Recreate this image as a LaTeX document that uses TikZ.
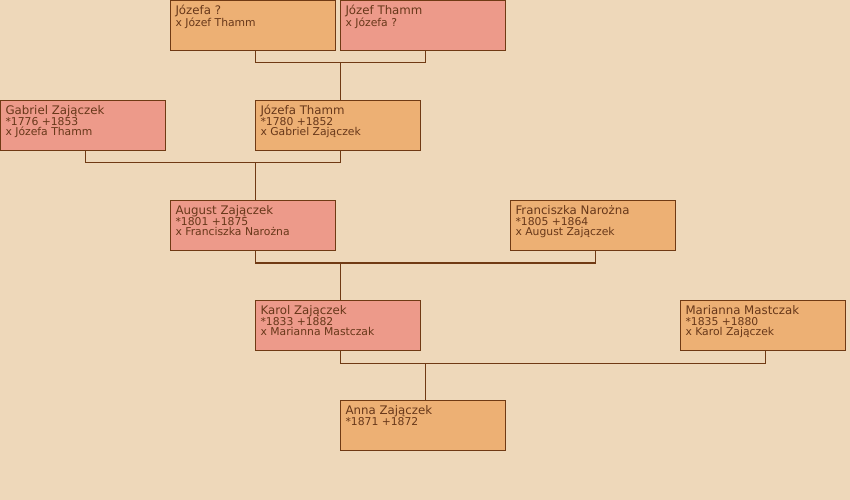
\documentclass[tikz,border=0pt]{standalone}
\usepackage{fontspec}
\setmainfont{DejaVu Sans}
\usetikzlibrary{calc}
\definecolor{bgcol}{RGB}{238,216,186}
\definecolor{boxorange}{RGB}{237,176,116}
\definecolor{boxsalmon}{RGB}{237,154,138}
\definecolor{linebrown}{RGB}{112,58,20}
\definecolor{textbrown}{RGB}{104,56,26}
\def\famtext#1#2{\parbox[t][50bp][t]{155bp}{\raggedright\fontsize{11.8bp}{10.5bp}\selectfont\rule{0pt}{14bp}#1\par\fontsize{10.8bp}{10.6bp}\selectfont #2}}
\tikzset{
  person/.style={draw=linebrown, line width=1bp, fill=#1, minimum width=165bp, minimum height=50bp,
    inner xsep=5bp, inner ysep=0pt, anchor=north west, text=textbrown},
  link/.style={draw=linebrown, line width=1bp}
}

\begin{document}
\begin{tikzpicture}[x=1bp, y=-1bp]
		%%%%% START %%%%%
		\fill[bgcol] (0,0) rectangle (850,500);
		\useasboundingbox (0,0) rectangle (850,500);
		
		\node[person=boxorange] (jozefaq) at (170,0) {\famtext{Józefa ?}{x Józef Thamm}};
		\node[person=boxsalmon] (jozefth) at (340,0) {\famtext{Józef Thamm}{x Józefa ?}};
		
		\node[person=boxsalmon] (gabriel) at (0,100) {\famtext{Gabriel Zajączek}{*1776 +1853\\x Józefa Thamm}};
		\node[person=boxorange] (jthamm) at (255,100) {\famtext{Józefa Thamm}{*1780 +1852\\x Gabriel Zajączek}};
		
		\node[person=boxsalmon] (august) at (170,200) {\famtext{August Zajączek}{*1801 +1875\\x Franciszka Narożna}};
		\node[person=boxorange] (franc) at (510,200) {\famtext{Franciszka Narożna}{*1805 +1864\\x August Zajączek}};
		
		\node[person=boxsalmon] (karol) at (255,300) {\famtext{Karol Zajączek}{*1833 +1882\\x Marianna Mastczak}};
		\node[person=boxorange] (marianna) at (680,300) {\famtext{Marianna Mastczak}{*1835 +1880\\x Karol Zajączek}};
		
		\node[person=boxorange] (anna) at (340,400) {\famtext{Anna Zajączek}{*1871 +1872}};
		
		% couples and children
		\draw[link] ([xshift=2.5bp]jozefaq.south) -- ++(0,12) coordinate (m1) -| ([xshift=2.5bp]jozefth.south);
		\draw[link] ([xshift=2.5bp]jthamm.north) -- ([xshift=2.5bp]jthamm.north |- m1);
		
		\draw[link] ([xshift=2.5bp]gabriel.south) -- ++(0,12) coordinate (m2) -| ([xshift=2.5bp]jthamm.south);
		\draw[link] ([xshift=2.5bp]august.north) -- ([xshift=2.5bp]august.north |- m2);
		
		\draw[link] ([xshift=2.5bp]august.south) -- ++(0,12) coordinate (m3) -| ([xshift=2.5bp]franc.south);
		\draw[link] ([xshift=2.5bp]karol.north) -- ([xshift=2.5bp]karol.north |- m3);
		
		\draw[link] ([xshift=2.5bp]karol.south) -- ++(0,12) coordinate (m4) -| ([xshift=2.5bp]marianna.south);
		\draw[link] ([xshift=2.5bp]anna.north) -- ([xshift=2.5bp]anna.north |- m4);
		%%%%% END %%%%%
\end{tikzpicture}
\end{document}
